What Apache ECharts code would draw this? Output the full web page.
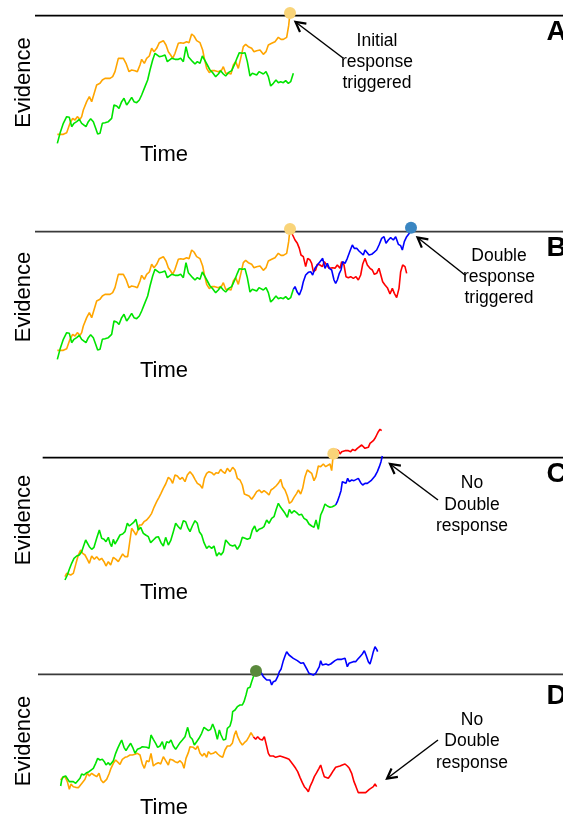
<!DOCTYPE html>
<html>
<head>
<meta charset="utf-8">
<script src="https://cdn.jsdelivr.net/npm/echarts@6/dist/echarts.min.js"></script>
<style>
html,body{margin:0;padding:0;background:#fff;}
#chart{width:563px;height:821px;}
</style>
</head>
<body>
<div id="chart"></div>
<script>
// Evidence threshold (response criterion)
var threshold = 500;
// Time extent of each threshold line [start, end]
var thresholdTimeA = [-45, 1539];
var thresholdTimeB = [-45, 1539];
var thresholdTimeC = [-22, 1539];
var thresholdTimeD = [-36, 1539];

// Panels A and B share the same accumulators before the first response
var orangeAB = [[22,144],[40,144],[50,149],[60,177],[68,192],[75,187],[82,197],[90,189],[95,197],[100,217],[110,242],[118,257],[125,242],[130,247],[140,292],[150,297],[157,307],[165,312],[180,312],[188,317],[195,332],[205,372],[210,377],[220,372],[228,357],[237,332],[245,337],[255,335],[262,332],[270,352],[275,369],[283,357],[290,372],[298,379],[305,402],[312,392],[320,402],[328,419],[340,425],[348,412],[355,392],[362,382],[368,372],[375,387],[385,417],[392,419],[400,417],[410,422],[417,419],[425,445],[432,439],[440,425],[450,419],[458,397],[463,372],[470,342],[478,329],[485,335],[495,335],[505,332],[515,337],[520,347],[527,327],[535,327],[543,325],[550,352],[557,362],[565,342],[572,372],[580,407],[587,414],[595,407],[605,402],[612,392],[620,395],[630,397],[640,384],[648,392],[655,412],[665,417],[675,422],[685,435],[693,429],[700,429],[710,435],[716,470],[720,508]];
var greenAB = [[22,117],[30,147],[40,177],[50,197],[58,195],[65,167],[72,177],[80,182],[88,189],[95,177],[100,172],[108,167],[115,182],[122,191],[130,182],[137,162],[143,145],[150,147],[157,177],[165,179],[175,182],[185,192],[192,232],[200,229],[207,222],[215,242],[222,252],[230,232],[237,242],[245,255],[252,242],[260,239],[268,247],[275,262],[285,287],[293,307],[300,337],[308,367],[315,387],[320,392],[328,377],[337,379],[345,382],[352,362],[358,357],[365,372],[375,369],[385,369],[392,372],[400,362],[408,407],[415,377],[420,382],[428,362],[435,355],[442,362],[450,357],[457,379],[465,365],[472,352],[480,337],[488,329],[497,317],[505,325],[512,335],[520,325],[527,319],[535,329],[545,335],[555,357],[562,375],[568,389],[578,387],[585,389],[592,362],[600,319],[607,327],[613,325],[620,322],[627,332],[633,337],[640,325],[648,332],[655,317],[662,289],[670,297],[678,307],[685,299],[692,302],[700,299],[707,305],[715,297],[722,302],[730,327]];
var blueB = [[730,327],[735,335],[742,318],[748,310],[755,328],[760,350],[767,370],[775,378],[782,380],[788,370],[795,390],[802,400],[810,410],[818,420],[825,390],[832,405],[838,390],[845,385],[852,355],[857,345],[862,355],[868,375],[873,385],[878,410],[885,405],[892,420],[900,442],[907,460],[913,450],[920,450],[927,442],[933,448],[940,430],[945,445],[950,442],[957,430],[965,432],[972,438],[980,445],[987,460],[995,480],[1002,485],[1008,465],[1015,475],[1022,482],[1030,475],[1037,485],[1045,462],[1052,458],[1057,445],[1063,470],[1070,485],[1078,495],[1083,512]];
var redB = [[720,508],[728,490],[735,475],[742,465],[748,450],[753,430],[760,425],[767,395],[773,420],[780,415],[785,405],[790,380],[797,385],[802,402],[810,400],[817,395],[823,410],[830,400],[837,390],[842,385],[848,392],[855,390],[862,400],[870,390],[875,410],[882,400],[888,365],[895,362],[902,365],[910,360],[918,365],[925,355],[932,370],[938,402],[945,420],[952,400],[960,390],[967,385],[973,372],[980,375],[987,390],[993,395],[998,350],[1005,340],[1012,332],[1020,313],[1027,330],[1033,315],[1040,302],[1047,330],[1052,380],[1058,400],[1065,395],[1070,375]];

var orangeC = [[45,143],[50,153],[55,158],[62,148],[70,153],[78,183],[85,208],[92,223],[98,213],[105,208],[112,195],[118,183],[125,205],[133,195],[140,203],[148,193],[155,198],[162,188],[168,175],[175,188],[182,178],[190,201],[198,195],[205,188],[212,201],[218,211],[225,203],[233,203],[240,253],[245,288],[252,278],[258,268],[263,281],[268,298],[275,298],[282,308],[290,313],[297,321],[305,333],[312,351],[320,368],[327,381],[333,393],[340,408],[347,421],[355,441],[362,435],[368,423],[375,448],[382,445],[390,435],[397,441],[405,428],[412,448],[420,458],[428,448],[435,435],[442,423],[450,418],[457,408],[463,438],[470,453],[477,458],[485,455],[492,448],[498,455],[505,453],[512,465],[518,458],[525,453],[532,468],[540,458],[548,471],[555,463],[562,438],[570,433],[577,418],[583,391],[590,388],[597,385],[605,375],[612,385],[620,398],[628,403],[635,395],[642,401],[650,395],[657,388],[663,403],[670,408],[678,415],[685,423],[692,435],[698,413],[705,403],[712,385],[718,363],[725,368],[732,381],[740,393],[745,403],[752,391],[758,408],[765,443],[772,463],[778,465],[785,453],[792,431],[798,443],[805,475],[812,473],[820,481],[827,473],[833,473],[840,481],[845,461],[850,512]];
var greenC = [[45,133],[52,148],[58,165],[65,183],[72,198],[80,205],[88,208],[95,218],[100,233],[107,253],[112,258],[118,233],[125,225],[132,231],[140,258],[148,283],[155,258],[162,255],[168,248],[175,261],[180,243],[185,233],[190,255],[195,241],[202,253],[210,268],[218,271],[225,278],[232,303],[238,295],[243,301],[250,305],[258,315],[265,283],[272,291],[280,273],[287,268],[295,263],[302,245],[310,253],[318,261],[325,263],[333,245],[340,235],[347,261],[355,238],[362,251],[370,278],[377,303],[385,293],[392,285],[400,311],[407,308],[413,291],[420,278],[427,295],[435,311],[442,303],[448,278],[455,268],[462,245],[470,228],[477,235],[485,228],[492,235],[500,205],[507,215],[513,208],[520,218],[527,253],[533,255],[540,238],[548,235],[555,238],[562,225],[570,238],[577,261],[585,258],[592,255],[600,258],[607,283],[614,295],[620,278],[627,285],[635,288],[642,293],[650,313],[657,303],[665,318],[672,323],[678,343],[685,363],[692,351],[698,343],[705,333],[712,321],[718,345],[725,333],[732,341],[740,335],[747,328],[755,330],[762,318],[770,313],[777,301],[785,295],[792,291],[798,313],[805,285],[812,328],[818,341],[825,361],[832,355],[840,351],[847,353],[853,351],[857,358]];
var blueC = [[857,358],[862,368],[868,385],[873,401],[877,428],[883,431],[888,423],[893,438],[898,428],[905,433],[912,431],[918,433],[925,438],[932,425],[938,418],[945,423],[952,423],[958,428],[963,431],[968,425],[975,445],[982,458],[988,473],[993,488],[997,505]];
var redC = [[850,512],[858,525],[865,521],[870,511],[875,518],[880,513],[885,521],[890,516],[895,521],[902,518],[908,525],[915,521],[922,528],[928,531],[935,538],[940,533],[945,528],[950,523],[955,531],[960,543],[965,541],[970,551],[975,558],[980,568],[985,578],[990,585],[995,581]];

var greenD = [[32,165],[35,183],[40,193],[47,195],[53,198],[58,178],[63,183],[70,178],[77,173],[83,178],[90,188],[95,201],[102,198],[110,205],[117,208],[123,205],[130,218],[137,233],[143,248],[150,243],[157,245],[163,238],[168,228],[175,235],[180,228],[185,231],[190,241],[197,263],[203,278],[210,293],[215,303],[222,281],[228,271],[235,283],[242,293],[248,281],[255,263],[262,275],[270,278],[277,283],[283,285],[290,281],[297,278],[303,318],[310,305],[317,293],[323,281],[330,285],[337,298],[343,275],[350,298],[357,295],[363,303],[370,285],[377,275],[383,275],[390,295],[397,303],[405,313],[413,341],[420,313],[427,305],[433,288],[440,298],[447,308],[455,323],[462,341],[468,345],[475,331],[482,335],[488,351],[495,333],[502,305],[508,333],[513,318],[520,303],[527,305],[532,338],[540,345],[545,363],[548,388],[555,393],[562,403],[570,408],[577,408],[582,418],[588,438],[593,458],[600,461],[605,478],[612,498],[618,510]];
var orangeD = [[32,183],[38,191],[45,193],[52,178],[58,155],[63,171],[70,163],[77,161],[85,160],[90,163],[97,175],[105,185],[112,203],[118,195],[125,203],[132,198],[140,193],[147,203],[153,183],[160,175],[165,178],[170,185],[177,201],[183,218],[190,233],[197,243],[203,238],[210,230],[217,245],[225,251],[232,253],[240,258],[247,258],[255,260],[262,263],[270,258],[277,231],[283,218],[290,241],[297,238],[303,263],[310,225],[317,231],[325,235],[332,231],[340,253],[347,241],[355,228],[360,245],[368,243],[375,238],[383,235],[390,241],[397,233],[402,218],[408,248],[415,265],[420,283],[425,278],[430,281],[437,275],[443,285],[450,263],[457,255],[463,263],[470,251],[475,268],[482,261],[490,263],[497,268],[503,261],[510,255],[518,251],[525,273],[532,285],[540,285],[547,293],[553,318],[558,331],[563,313],[570,298],[577,288],[583,295],[590,301],[597,313],[603,325],[610,313]];
var redD = [[610,313],[617,305],[623,313],[630,305],[637,303],[643,313],[648,293],[655,263],[660,255],[665,261],[670,255],[677,251],[683,253],[690,255],[697,253],[703,251],[710,248],[717,245],[723,243],[730,228],[737,218],[743,208],[750,191],[757,175],[763,163],[770,155],[775,148],[780,163],[787,178],[793,193],[800,205],[807,218],[812,228],[818,208],[823,193],[828,198],[835,188],[842,198],[850,211],[857,221],[863,225],[870,225],[877,228],[885,231],[892,225],[898,218],[905,203],[912,178],[918,163],[925,145],[932,145],[940,145],[947,145],[953,148],[958,155],[963,155],[970,163],[975,171],[980,163]];
var blueD = [[618,510],[625,505],[632,508],[640,493],[645,491],[650,483],[655,488],[660,483],[665,468],[670,478],[677,481],[683,493],[688,508],[693,515],[700,541],[705,555],[710,568],[717,558],[723,558],[730,548],[735,553],[742,541],[748,543],[753,533],[760,535],[765,531],[772,513],[777,503],[783,505],[790,498],[797,503],[803,503],[808,523],[812,541],[817,528],[822,533],[828,531],[835,528],[842,531],[848,535],[855,541],[862,545],[868,548],[875,545],[880,551],[885,548],[892,523],[897,533],[903,538],[910,538],[917,538],[923,545],[930,553],[937,561],[943,571],[948,558],[955,538],[960,531],[965,548],[970,568],[975,583],[980,575],[983,568]];

var panelLetters = ['A','B','C','D'];
var annotationA = ['Initial','response','triggered'];
var annotationB = ['Double','response','triggered'];
var annotationC = ['No','Double','response'];
var annotationD = ['No','Double','response'];
var axisLabelY = 'Evidence';
var axisLabelX = 'Time';

var COL = {orange:'#ffa500', green:'#00e400', blue:'#0000ff', red:'#ff0000',
  yellowDot:'#f9d479', blueDot:'#3a86c2', greenDot:'#5a893c'};
var FONT = '"Liberation Sans", Arial, sans-serif';

function last(a){ return a[a.length-1]; }

var grids = [
  {left:0, width:563, top:0, height:150},
  {left:0, width:563, top:200, height:160},
  {left:0, width:563, top:415, height:170},
  {left:0, width:563, top:635, height:170}
];
var yRanges = [[97,547],[115,595],[118,628],[108,618]];
var xAxes = [], yAxes = [];
for (var i=0;i<4;i++){
  xAxes.push({gridIndex:i, type:'value', min:-150, max:1539, show:false});
  yAxes.push({gridIndex:i, type:'value', min:yRanges[i][0], max:yRanges[i][1], show:false});
}

var series = [];
function line(idx, data, color, lw){
  series.push({type:'line', xAxisIndex:idx, yAxisIndex:idx, data:data, showSymbol:false,
    symbol:'none', lineStyle:{color:color, width:lw||1.6}, clip:false, silent:true, z:2});
}
function thr(idx, ext, color){
  series.push({type:'line', xAxisIndex:idx, yAxisIndex:idx,
    data:[[ext[0],threshold],[ext[1],threshold]], symbol:'none',
    lineStyle:{color:color, width:1.7}, clip:false, silent:true, z:1});
}
function dot(idx, pt, color){
  series.push({type:'scatter', xAxisIndex:idx, yAxisIndex:idx, data:[pt], symbol:'circle',
    symbolSize:12, itemStyle:{color:color, opacity:1}, silent:true, z:5});
}

// Panel A
thr(0, thresholdTimeA, '#000');
line(0, orangeAB, COL.orange);
line(0, greenAB, COL.green);
dot(0, last(orangeAB), COL.yellowDot);
// Panel B
thr(1, thresholdTimeB, '#3a3a3a');
line(1, orangeAB, COL.orange);
line(1, greenAB, COL.green);
line(1, redB, COL.red);
line(1, blueB, COL.blue);
dot(1, last(orangeAB), COL.yellowDot);
dot(1, last(blueB), COL.blueDot);
// Panel C
thr(2, thresholdTimeC, '#000');
line(2, orangeC, COL.orange);
line(2, greenC, COL.green);
line(2, redC, COL.red);
line(2, blueC, COL.blue);
dot(2, last(orangeC), COL.yellowDot);
// Panel D
thr(3, thresholdTimeD, '#3a3a3a');
line(3, orangeD, COL.orange);
line(3, greenD, COL.green);
line(3, redD, COL.red);
line(3, blueD, COL.blue);
dot(3, last(greenD), COL.greenDot);

// Annotations and labels
var graphic = [];
function text(str, x, y, size, opts){
  opts = opts || {};
  graphic.push({type:'text', x:x, y:y, rotation:opts.rotation||0, silent:true, z:10,
    style:{text:str, fill:'#000', font:(opts.bold?'bold ':'')+size+'px '+FONT,
      textAlign:opts.align||'center', textVerticalAlign:'middle'}});
}
function multi(lines, cx, cy0, gap){
  for (var k=0;k<lines.length;k++) text(lines[k], cx, cy0+k*gap, 17.5);
}
function arrow(x1,y1,x2,y2){
  var ang = Math.atan2(y2-y1, x2-x1), L = 11, a = 0.5;
  var p1 = [x2 - L*Math.cos(ang-a), y2 - L*Math.sin(ang-a)];
  var p2 = [x2 - L*Math.cos(ang+a), y2 - L*Math.sin(ang+a)];
  graphic.push({type:'line', silent:true, z:10, shape:{x1:x1,y1:y1,x2:x2,y2:y2},
    style:{stroke:'#000', lineWidth:1.5}});
  graphic.push({type:'polyline', silent:true, z:10, shape:{points:[p1,[x2,y2],p2]},
    style:{stroke:'#000', lineWidth:2.2, fill:null}});
}
var evY = [82.5, 297, 520, 741];
var timeY = [155, 371, 593, 808];
var letterY = [32, 248, 474, 696];
for (var p=0;p<4;p++){
  text(axisLabelY, 23.5, evY[p], 22, {rotation:Math.PI/2});
  text(axisLabelX, 164, timeY[p], 22);
  text(panelLetters[p], 546.5, letterY[p], 28, {bold:true, align:'left'});
}
multi(annotationA, 377, 41.5, 21);
multi(annotationB, 499, 256, 21);
multi(annotationC, 472, 483.5, 21.2);
multi(annotationD, 472, 720, 21.5);
arrow(343, 58, 295.5, 22);
arrow(465, 275, 417.5, 237.5);
arrow(438, 500, 390, 464);
arrow(438, 740, 387, 778.5);

var chart = echarts.init(document.getElementById('chart'), null, {renderer:'canvas'});
chart.setOption({
  animation:false,
  backgroundColor:'#fff',
  grid:grids,
  xAxis:xAxes,
  yAxis:yAxes,
  series:series,
  graphic:graphic
});
</script>
</body>
</html>
